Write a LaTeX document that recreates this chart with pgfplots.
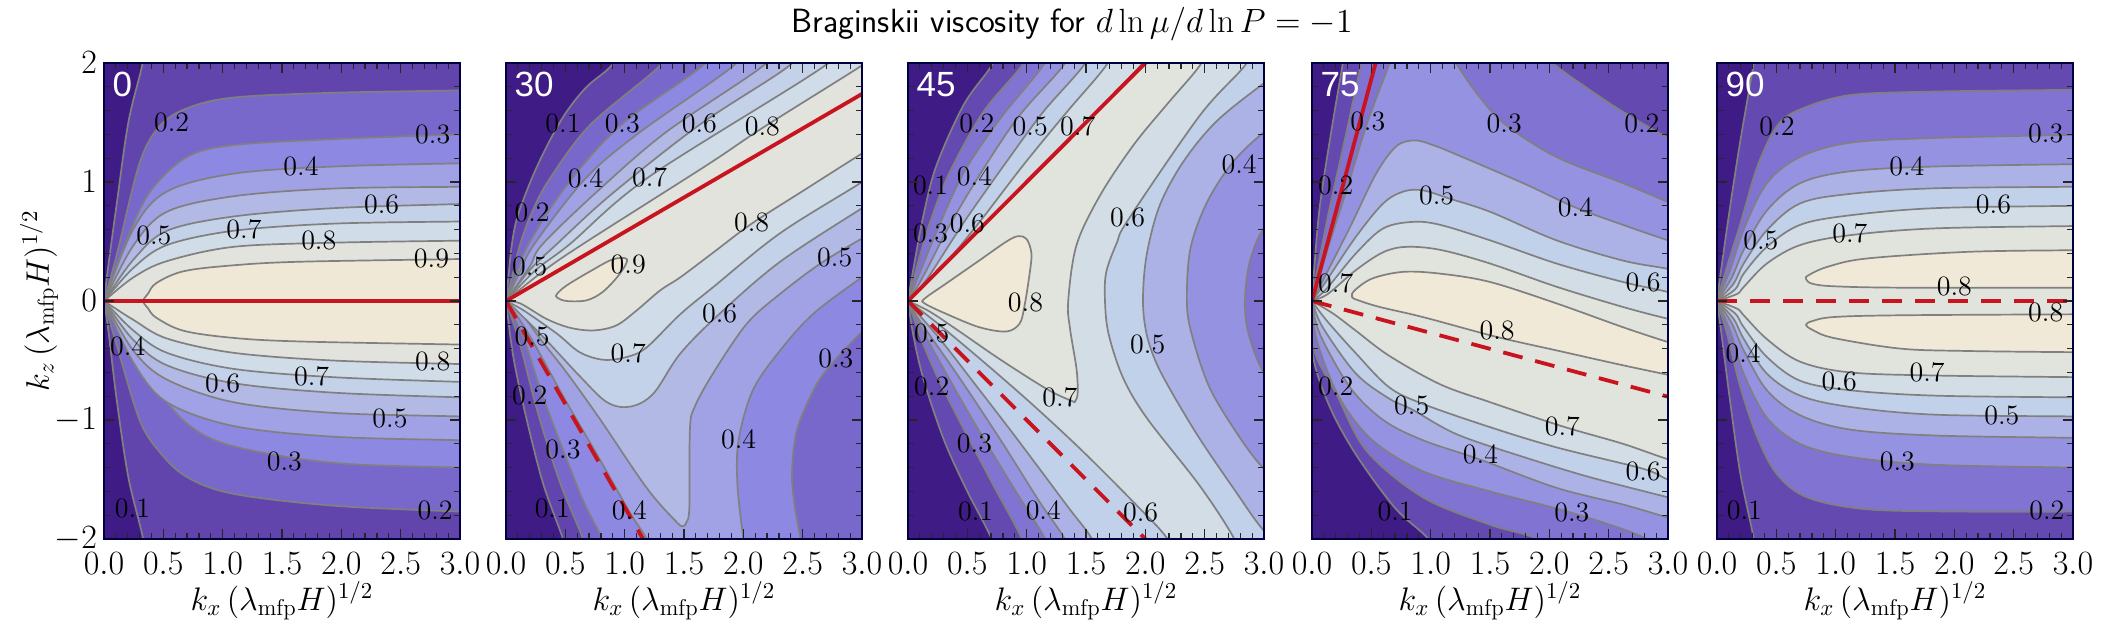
\RequirePackage{fix-cm}
\documentclass[border=0pt]{standalone}
\usepackage{fontspec}
\usepackage{pgfplots}
\pgfplotsset{compat=1.18}
\newfontfamily\hv{Liberation Sans}

\definecolor{c0}{HTML}{3F1B85}
\definecolor{c1}{HTML}{6145AD}
\definecolor{c2}{HTML}{7868CB}
\definecolor{c3}{HTML}{8D88E2}
\definecolor{c4}{HTML}{A0A2E5}
\definecolor{c5}{HTML}{B2B9E5}
\definecolor{c6}{HTML}{C3D2E9}
\definecolor{c7}{HTML}{D0DCE8}
\definecolor{c8}{HTML}{E2E3DC}
\definecolor{c9}{HTML}{F0E8D6}
\definecolor{d1}{HTML}{6349B0}
\definecolor{d2}{HTML}{8073D2}
\definecolor{d3}{HTML}{9692E2}
\definecolor{d4}{HTML}{ACB2E6}
\definecolor{d5}{HTML}{C1D1E9}
\definecolor{d6}{HTML}{D2DDE6}
\definecolor{d7}{HTML}{E1E3DD}
\definecolor{d8}{HTML}{F0E9D7}
\definecolor{cline}{HTML}{808080}
\definecolor{cred}{HTML}{C8141E}

\newcommand\lab[3]{\node[lab] at (axis cs:#1,#2) {#3};}
\tikzset{
  lab/.style={font=\fontsize{14}{16}\selectfont, text=black, inner sep=0pt},
  num/.style={font=\hv\fontsize{17.5}{20}\selectfont, text=white, anchor=west, inner sep=0pt},
}
\pgfplotsset{
  panel/.style={
    scale only axis, width=178pt, height=238pt,
    xmin=0, xmax=3, ymin=-2, ymax=2,
    xtick={0,0.5,...,3}, ytick={-2,-1,0,1,2},
    minor x tick num=4, minor y tick num=4,
    tick align=inside, major tick length=5pt, minor tick length=3pt,
    every tick/.style={black!85, line width=0.6pt},
    axis line style={black!75!blue, line width=0.6pt},
    axis on top,
    xticklabel style={/pgf/number format/fixed, /pgf/number format/fixed zerofill, /pgf/number format/precision=1, yshift=-3.5pt},
    tick label style={font=\fontsize{17}{20}\selectfont},
    label style={font=\fontsize{16.3}{19}\selectfont},
    xlabel={$k_x\,(\lambda_{\mathrm{mfp}}H)^{1/2}$},
    xlabel style={yshift=3.5pt},
  },
  lev/.style={draw=cline, line width=0.85pt, smooth, tension=0.55, fill=#1},
  redsolid/.style={draw=cred, line width=1.9pt},
  reddash/.style={draw=cred, line width=1.9pt, dash pattern=on 10pt off 6.5pt},
}

\begin{document}
\begin{tikzpicture}
\useasboundingbox (-52pt,-49.5pt) rectangle (999.5pt,269.5pt);

% ---- 0 degrees
\begin{axis}[panel, at={(0pt,0pt)}, axis background/.style={fill=c0},
  ylabel={$k_z\,(\lambda_{\mathrm{mfp}}H)^{1/2}$}, ylabel style={yshift=-8.5pt}]
\addplot[lev=c1] coordinates {(.34,2.2)(.326,2)(.205,1.5)(.107,.815)(.037,.3)(0,0)(0,0)(.037,-.25)(.107,-.83)(.205,-1.48)(.33,-2)(.34,-2.2)(.35,-2.5)(3.3,-2.5)(3.3,2.5)(.36,2.5)};
\addplot[lev=c2] coordinates {(3.3,1.78)(3,1.77)(1.93,1.75)(1.09,1.71)(.7,1.62)(.47,1.47)(.3,1.16)(.11,.4)(0,0)(0,0)(.11,-.38)(.3,-1)(.47,-1.27)(.7,-1.48)(1.09,-1.62)(1.93,-1.72)(3,-1.77)(3.3,-1.78)};
\addplot[lev=c3] coordinates {(3.3,1.41)(3,1.4)(1.93,1.36)(1.09,1.31)(.7,1.21)(.39,.92)(.19,.51)(0,0)(0,0)(.19,-.32)(.39,-.66)(.7,-1.03)(1.09,-1.22)(1.93,-1.36)(3,-1.4)(3.3,-1.41)};
\addplot[lev=c4] coordinates {(3.3,1.16)(3,1.157)(1.93,1.13)(1.09,1.07)(.53,.92)(.25,.61)(0,0)(0,0)(.25,-.52)(.53,-.85)(1.09,-1.05)(1.93,-1.14)(3,-1.17)(3.3,-1.18)};
\addplot[lev=c5] coordinates {(3.3,.965)(3,.96)(1.93,.945)(1.09,.88)(.53,.75)(.25,.47)(0,0)(0,0)(.25,-.42)(.53,-.66)(1.09,-.85)(1.93,-.94)(3,-.97)(3.3,-.98)};
\addplot[lev=c6] coordinates {(3.3,.82)(3,.815)(1.93,.78)(1.09,.71)(.53,.59)(.25,.35)(0,0)(0,0)(.25,-.33)(.53,-.54)(1.09,-.69)(1.93,-.77)(3,-.81)(3.3,-.82)};
\addplot[lev=c7] coordinates {(3.3,.67)(3,.668)(1.93,.65)(1.09,.59)(.53,.47)(.25,.28)(0,0)(0,0)(.25,-.25)(.53,-.435)(1.09,-.57)(1.93,-.64)(3,-.68)(3.3,-.69)};
\addplot[lev=c8] coordinates {(3.3,.51)(3,.507)(1.93,.49)(1.09,.455)(.53,.335)(.25,.2)(0,0)(0,0)(.25,-.16)(.53,-.315)(1.09,-.435)(1.93,-.5)(3,-.53)(3.3,-.54)};
\addplot[lev=c9] coordinates {(3.2,.36)(3,.353)(1.65,.33)(1.09,.3)(.67,.25)(.44,.15)(.37,.06)(.33,0)(.37,-.06)(.44,-.14)(.67,-.25)(1.09,-.31)(1.65,-.34)(3,-.366)(3.2,-.37)};
\addplot[redsolid] coordinates {(0,0)(3,0)};
\lab{.57}{1.5}{0.2}\lab{2.77}{1.4}{0.3}\lab{1.66}{1.13}{0.4}\lab{2.34}{.815}{0.6}
\lab{.42}{.55}{0.5}\lab{1.18}{.6}{0.7}\lab{1.81}{.51}{0.8}\lab{2.76}{.36}{0.9}
\lab{.2}{-.38}{0.4}\lab{2.77}{-.51}{0.8}\lab{1.75}{-.63}{0.7}\lab{1}{-.69}{0.6}
\lab{2.41}{-.99}{0.5}\lab{1.52}{-1.35}{0.3}\lab{.24}{-1.74}{0.1}\lab{2.79}{-1.76}{0.2}
\node[num] at (axis cs:.07,1.82) {0};
\end{axis}

% ---- 30 degrees
\begin{axis}[panel, at={(201pt,0pt)}, axis background/.style={fill=c0}, yticklabels={}]
\addplot[lev=c1] coordinates {(.95,2.15)(.89,1.98)(.68,1.8)(.51,1.59)(.37,1.35)(.23,1.06)(.1,.72)(.05,.48)(.02,.2)(0,0)(0,0)(.06,-.46)(.16,-.935)(.31,-1.525)(.48,-2)(.52,-2.2)(.55,-2.5)(3.3,-2.5)(3.3,2.5)(1,2.5)};
\addplot[lev=c2] coordinates {(1.36,2.15)(1.3,1.98)(.71,1.48)(.37,1.03)(.22,.75)(.12,.48)(.05,.2)(0,0)(0,0)(.12,-.37)(.26,-.91)(.455,-1.525)(.65,-2)(.7,-2.2)(.75,-2.5)(3.3,-2.5)(3.3,2.5)(1.4,2.5)};
\addplot[lev=c3] coordinates {(1.72,2.15)(1.66,1.98)(.97,1.48)(.51,.97)(.19,.48)(.09,.23)(0,0)(0,0)(.15,-.32)(.31,-.8)(.5,-1.3)(.66,-1.7)(.81,-2)(.84,-2.2)(.9,-2.5)(2.5,-2.5)(2.49,-2.2)(2.48,-2)(2.435,-1.736)(2.41,-1.455)(2.45,-1.09)(2.59,-.753)(2.72,-.556)(3,-.26)(3.2,-.1)(3.4,0)(3.4,2.5)(1.8,2.5)};
\addplot[lev=c4] coordinates {(1.98,2.15)(1.92,1.98)(1.13,1.42)(.67,1.03)(.24,.48)(.12,.25)(0,0)(0,0)(.09,-.12)(.23,-.345)(.51,-.85)(.79,-1.33)(1.045,-1.78)(1.185,-2)(1.25,-2.2)(1.3,-2.5)(2.05,-2.5)(2.03,-2.2)(2,-2)(1.95,-1.54)(1.96,-1.17)(2.08,-.75)(2.31,-.416)(2.59,-.107)(3,.2)(3.2,.33)(3.4,.45)(3.4,2.5)(2.05,2.5)};
\addplot[lev=c5] coordinates {(2.23,2.15)(2.17,1.98)(1.35,1.42)(.79,.94)(.31,.48)(.2,.29)(0,0)(0,0)(.12,-.09)(.29,-.32)(.51,-.6)(.79,-.99)(1.185,-1.57)(1.44,-1.86)(1.495,-1.89)(1.52,-1.86)(1.545,-1.736)(1.55,-1.076)(1.59,-.89)(1.75,-.6)(2.03,-.19)(2.31,.06)(2.65,.315)(3,.525)(3.2,.62)(3.4,.75)(3.4,2.5)(2.3,2.5)};
\addplot[lev=c6] coordinates {(2.45,2.15)(2.39,1.98)(1.63,1.48)(.88,.89)(.43,.48)(.2,.26)(0,0)(0,0)(.09,-.08)(.34,-.33)(.62,-.63)(.85,-.85)(1.045,-.888)(1.24,-.78)(1.47,-.44)(1.8,-.107)(2.31,.33)(3,.78)(3.2,.9)(3.4,1)(3.4,2.5)(2.5,2.5)};
\addplot[lev=c7] coordinates {(2.75,2.15)(2.69,1.98)(1.2,1.04)(.54,.48)(.25,.26)(0,0)(0,0)(.15,-.08)(.43,-.275)(.62,-.43)(.82,-.494)(1.02,-.47)(1.185,-.39)(1.47,-.11)(1.75,.12)(2.31,.57)(3,1)(3.2,1.15)(3.4,1.3)(3.4,2.5)(2.8,2.5)};
\addplot[lev=c8] coordinates {(3.15,2.1)(3,1.98)(2.17,1.46)(1.69,1.14)(.65,.48)(.3,.24)(0,0)(0,0)(.12,-.02)(.34,-.15)(.54,-.225)(.74,-.247)(.93,-.205)(1.1,-.08)(1.3,.09)(1.47,.2)(1.75,.41)(2.07,.65)(2.51,.93)(3,1.24)(3.3,1.42)(3.5,1.6)};
\addplot[lev=c9, smooth cycle] coordinates {(.43,.06)(.51,.13)(.71,.25)(.9,.35)(1.02,.35)(.96,.23)(.82,.08)(.68,.006)(.51,0)(.43,.03)};
\addplot[redsolid] coordinates {(0,0)(3,1.74)};
\addplot[reddash] coordinates {(0,0)(1.155,-2)};
\lab{.48}{1.49}{0.1}\lab{.98}{1.49}{0.3}\lab{1.63}{1.49}{0.6}\lab{2.16}{1.47}{0.8}
\lab{.67}{1.03}{0.4}\lab{1.21}{1.04}{0.7}\lab{.22}{.74}{0.2}\lab{2.07}{.66}{0.8}
\lab{2.77}{.365}{0.5}\lab{.2}{.29}{0.5}\lab{1.03}{.31}{0.9}\lab{1.8}{-.107}{0.6}
\lab{.22}{-.3}{0.5}\lab{1.03}{-.44}{0.7}\lab{2.78}{-.48}{0.3}\lab{.2}{-.79}{0.2}
\lab{1.96}{-1.16}{0.4}\lab{.48}{-1.25}{0.3}\lab{.39}{-1.74}{0.1}\lab{1.04}{-1.76}{0.4}
\node[num] at (axis cs:.07,1.82) {30};
\end{axis}

% ---- 45 degrees
\begin{axis}[panel, at={(402pt,0pt)}, axis background/.style={fill=c0}, yticklabels={},
  title={\sffamily Braginskii viscosity for $d\ln\mu/d\ln P=-1$},
  title style={font=\fontsize{16.8}{20}\selectfont, yshift=1.5pt, xshift=-7pt}]
\addplot[lev=d1] coordinates {(.75,2.15)(.705,1.98)(.47,1.65)(.24,1.14)(.13,.72)(.045,.27)(0,0)(0,0)(.045,-.29)(.13,-.655)(.3,-1.16)(.49,-1.58)(.705,-2)(.75,-2.2)(.8,-2.5)(3.3,-2.5)(3.3,2.5)(.8,2.5)};
\addplot[lev=d2] coordinates {(1,2.15)(.96,1.98)(.635,1.59)(.35,1.08)(.185,.66)(.07,.27)(0,0)(0,0)(.1,-.29)(.23,-.6)(.44,-1.02)(.72,-1.55)(.96,-2)(1,-2.2)(1.05,-2.5)(3.3,-2.5)(3.3,2.5)(1.05,2.5)};
\addplot[lev=d3] coordinates {(1.19,2.15)(1.14,1.98)(.775,1.53)(.47,1.08)(.24,.58)(.1,.24)(0,0)(0,0)(.13,-.26)(.3,-.57)(.58,-1.06)(.915,-1.61)(1.155,-2)(1.2,-2.2)(1.25,-2.5)(3.4,-2.5)(3.4,-.75)(3.2,-.7)(3,-.6)(2.87,-.275)(2.84,0)(2.88,.33)(3,.61)(3.2,.7)(3.4,.8)(3.4,2.5)(1.25,2.5)};
\addplot[lev=d4] coordinates {(1.36,2.15)(1.31,1.98)(.94,1.56)(.635,1.11)(.35,.635)(.13,.21)(0,0)(0,0)(.06,-.107)(.185,-.29)(.44,-.655)(.775,-1.16)(1.11,-1.69)(1.32,-2)(1.37,-2.2)(1.42,-2.5)(3.4,-2.5)(3.4,-1.6)(3.2,-1.55)(3,-1.41)(2.795,-1.146)(2.54,-.725)(2.39,-.275)(2.35,0)(2.38,.44)(2.52,.83)(2.74,1.17)(3,1.42)(3.2,1.55)(3.4,1.65)(3.4,2.5)(1.42,2.5)};
\addplot[lev=d5] coordinates {(1.53,2.15)(1.48,1.98)(1.14,1.59)(.83,1.17)(.47,.66)(.16,.185)(0,0)(0,0)(.07,-.09)(.27,-.32)(.55,-.68)(.92,-1.16)(1.34,-1.72)(1.55,-2)(1.6,-2.2)(1.65,-2.5)(3.4,-2.5)(3.4,-2.15)(3.2,-2.05)(3,-1.93)(2.74,-1.57)(2.46,-1.16)(2.23,-.78)(2.09,-.515)(2.01,-.275)(1.98,0)(2.01,.38)(2.12,.8)(2.32,1.17)(2.6,1.51)(3,1.83)(3.2,1.95)(3.4,2.05)(3.4,2.5)(1.65,2.5)};
\addplot[lev=d6] coordinates {(1.72,2.15)(1.67,1.98)(1.34,1.59)(.97,1.14)(.58,.635)(.185,.16)(0,0)(0,0)(.07,-.05)(.27,-.205)(.635,-.51)(1.06,-.88)(1.48,-1.27)(1.9,-1.69)(2.18,-1.99)(2.25,-2.2)(2.3,-2.5)(2.85,-2.5)(2.8,-2.2)(2.75,-2)(2.46,-1.555)(2.01,-.98)(1.81,-.64)(1.69,-.275)(1.66,0)(1.67,.24)(1.76,.49)(1.86,.69)(2.46,1.56)(2.84,1.98)(2.9,2.15)};
\addplot[lev=d7] coordinates {(2.02,2.15)(1.98,2)(1,1)(.3,.3)(0,0)(0,0)(.185,-.09)(.44,-.26)(.775,-.49)(1.17,-.74)(1.38,-.84)(1.41,-.84)(1.43,-.77)(1.42,-.57)(1.365,-.23)(1.35,0)(1.42,.47)(1.62,.89)(1.9,1.31)(2.18,1.65)(2.46,1.98)(2.52,2.15)};
\addplot[lev=d8, smooth cycle] coordinates {(.14,.02)(.32,.146)(.6,.34)(.83,.5)(.93,.545)(1,.52)(1.04,.4)(1.025,.23)(.98,-.05)(.94,-.19)(.83,-.256)(.6,-.22)(.32,-.107)(.14,-.02)};
\addplot[redsolid] coordinates {(0,0)(2,2)};
\addplot[reddash] coordinates {(0,0)(2,-2)};
\lab{.58}{1.49}{0.2}\lab{1.03}{1.47}{0.5}\lab{1.43}{1.47}{0.7}\lab{2.79}{1.15}{0.4}
\lab{.19}{.97}{0.1}\lab{.56}{1.05}{0.4}\lab{1.85}{.7}{0.6}\lab{.5}{.65}{0.6}
\lab{.19}{.57}{0.3}\lab{.99}{-.01}{0.8}\lab{.2}{-.27}{0.5}\lab{2.02}{-.365}{0.5}
\lab{.2}{-.72}{0.2}\lab{1.28}{-.81}{0.7}\lab{.56}{-1.2}{0.3}\lab{.57}{-1.77}{0.1}
\lab{1.14}{-1.76}{0.4}\lab{1.96}{-1.78}{0.6}
\node[num] at (axis cs:.07,1.82) {45};
\end{axis}

% ---- 75 degrees
\begin{axis}[panel, at={(604pt,0pt)}, axis background/.style={fill=c0}, yticklabels={}]
\addplot[lev=d1] coordinates {(.29,2.15)(.26,2)(.15,1.35)(.065,.79)(.02,.29)(0,0)(0,0)(.01,-.47)(.15,-.89)(.37,-1.29)(.7,-1.74)(.98,-2)(1.05,-2.2)(1.1,-2.5)(3.3,-2.5)(3.3,2.5)(.3,2.5)};
\addplot[lev=d2] coordinates {(.45,2.15)(.415,2)(.275,1.35)(.15,.79)(.05,.29)(0,0)(0,0)(.02,-.42)(.205,-.78)(.46,-1.26)(.935,-1.65)(1.5,-1.88)(1.89,-2)(2,-2.2)(2.1,-2.5)(3.4,-2.5)(3.4,1.2)(3.2,1.27)(3,1.37)(2.62,1.59)(2.34,1.775)(2.03,2)(1.95,2.15)(1.9,2.5)(.5,2.5)};
\addplot[lev=d3] coordinates {(.7,2.15)(.655,2)(.47,1.51)(.29,.93)(.12,.4)(0,0)(0,0)(.04,-.33)(.23,-.81)(.51,-1.17)(.935,-1.43)(1.5,-1.6)(2.19,-1.78)(2.82,-2)(2.95,-2.2)(3.05,-2.5)(3.4,-2.5)(3.4,.65)(3.2,.73)(3,.83)(2.62,.99)(2.06,1.21)(1.62,1.49)(1.385,1.75)(1.215,2)(1.15,2.15)(1.1,2.5)(.75,2.5)};
\addplot[lev=d4] coordinates {(3.3,.42)(3,.51)(2.62,.64)(2.21,.79)(1.78,.99)(1.22,1.23)(1.02,1.31)(.865,1.35)(.71,1.3)(.54,1.07)(.32,.62)(.09,.17)(0,0)(0,0)(.065,-.275)(.32,-.725)(.6,-1)(.935,-1.17)(1.41,-1.33)(2.06,-1.57)(2.62,-1.71)(3,-1.82)(3.3,-1.9)};
\addplot[lev=d5] coordinates {(3.3,.2)(3,.27)(2.62,.34)(2.06,.51)(1.5,.75)(1.16,.86)(.935,.93)(.77,.92)(.6,.82)(.37,.54)(.105,.146)(0,0)(0,0)(.09,-.22)(.37,-.61)(.65,-.82)(.84,-.91)(1.22,-1.12)(1.78,-1.31)(2.34,-1.48)(3,-1.65)(3.3,-1.73)};
\addplot[lev=d6] coordinates {(3.3,0)(3,.076)(2.62,.16)(2.06,.315)(1.5,.51)(1.08,.64)(.85,.665)(.6,.61)(.37,.4)(.12,.1)(0,0)(0,0)(.12,-.16)(.37,-.44)(.65,-.725)(.935,-.865)(1.5,-1.06)(2.06,-1.23)(2.79,-1.41)(3,-1.5)(3.3,-1.58)};
\addplot[lev=d7] coordinates {(3.3,-.22)(3,-.15)(2.62,-.05)(2.06,.12)(1.5,.315)(1.08,.43)(.795,.455)(.6,.41)(.37,.26)(.135,.06)(0,0)(0,0)(.18,-.107)(.37,-.25)(.65,-.46)(1.08,-.7)(1.5,-.85)(2.1,-1.05)(2.62,-1.2)(3,-1.33)(3.3,-1.41)};
\addplot[lev=d8] coordinates {(3.3,-.43)(3,-.345)(2.62,-.22)(2.06,-.02)(1.5,.16)(1.08,.23)(.77,.245)(.51,.19)(.36,.09)(.337,.034)(.39,.006)(.57,-.05)(.935,-.135)(1.55,-.3)(2.06,-.415)(2.62,-.54)(3,-.62)(3.3,-.68)};
\addplot[redsolid] coordinates {(0,0)(.536,2)};
\addplot[reddash] coordinates {(0,0)(3,-.804)};
\lab{.47}{1.51}{0.3}\lab{1.62}{1.49}{0.3}\lab{2.78}{1.49}{0.2}\lab{.2}{.97}{0.2}
\lab{1.05}{.89}{0.5}\lab{2.22}{.79}{0.4}\lab{.2}{.15}{0.7}\lab{2.79}{.155}{0.6}
\lab{1.56}{-.25}{0.8}\lab{.2}{-.72}{0.2}\lab{.84}{-.88}{0.5}\lab{2.11}{-1.05}{0.7}
\lab{1.42}{-1.29}{0.4}\lab{2.79}{-1.43}{0.6}\lab{.7}{-1.77}{0.1}\lab{2.19}{-1.78}{0.3}
\node[num] at (axis cs:.07,1.82) {75};
\end{axis}

% ---- 90 degrees
\begin{axis}[panel, at={(806.5pt,0pt)}, axis background/.style={fill=c0}, yticklabels={}]
\addplot[lev=d1] coordinates {(.33,2.15)(.31,2)(.197,1.35)(.11,.79)(.03,.23)(0,0)(0,0)(.03,-.22)(.11,-.84)(.197,-1.455)(.31,-2)(.33,-2.2)(.35,-2.5)(3.3,-2.5)(3.3,2.5)(.35,2.5)};
\addplot[lev=d2] coordinates {(3.3,1.78)(3,1.775)(1.83,1.76)(1.12,1.73)(.7,1.61)(.505,1.47)(.34,1.13)(.197,.65)(.084,.29)(0,0)(0,0)(.084,-.275)(.197,-.725)(.34,-1.146)(.505,-1.455)(.76,-1.65)(1.26,-1.75)(2.11,-1.77)(3,-1.77)(3.3,-1.77)};
\addplot[lev=d3] coordinates {(3.3,1.4)(3,1.396)(1.83,1.37)(1.12,1.33)(.7,1.21)(.42,.99)(.225,.6)(.11,.26)(0,0)(0,0)(.11,-.25)(.225,-.61)(.42,-.98)(.7,-1.2)(1.12,-1.31)(1.83,-1.376)(3,-1.4)(3.3,-1.41)};
\addplot[lev=d4] coordinates {(3.3,1.155)(3,1.15)(1.83,1.13)(1.12,1.09)(.7,.99)(.42,.76)(.225,.43)(.126,.2)(0,0)(0,0)(.126,-.19)(.225,-.415)(.42,-.75)(.7,-.96)(1.12,-1.08)(1.83,-1.13)(3,-1.15)(3.3,-1.155)};
\addplot[lev=d5] coordinates {(3.3,.965)(3,.96)(1.83,.947)(1.12,.9)(.7,.82)(.42,.595)(.225,.315)(.14,.146)(0,0)(0,0)(.14,-.15)(.225,-.317)(.42,-.61)(.7,-.795)(1.12,-.89)(1.83,-.955)(3,-.97)(3.3,-.975)};
\addplot[lev=d6] coordinates {(3.3,.805)(3,.8)(1.83,.78)(1.12,.72)(.7,.64)(.42,.455)(.225,.23)(.155,.1)(0,0)(0,0)(.155,-.107)(.225,-.22)(.42,-.47)(.7,-.67)(1.12,-.75)(1.83,-.795)(3,-.81)(3.3,-.815)};
\addplot[lev=d7] coordinates {(3.3,.635)(3,.63)(1.83,.61)(1.12,.553)(.7,.47)(.42,.315)(.225,.118)(.17,.06)(0,0)(0,0)(.17,-.065)(.225,-.12)(.42,-.32)(.7,-.51)(1.12,-.6)(1.83,-.626)(3,-.64)(3.3,-.645)};
\addplot[lev=d8] coordinates {(3.3,.43)(3,.427)(2.11,.413)(1.26,.357)(.93,.287)(.77,.216)(.75,.185)(.8,.146)(.98,.124)(1.545,.112)(3,.112)(3.3,.112)};
\addplot[lev=d8] coordinates {(3.3,-.112)(3,-.112)(1.545,-.12)(.98,-.135)(.8,-.17)(.75,-.2)(.8,-.24)(.98,-.31)(1.545,-.4)(2.11,-.42)(3,-.43)(3.3,-.43)};
\addplot[reddash] coordinates {(0,0)(3,0)};
\lab{.505}{1.47}{0.2}\lab{2.77}{1.41}{0.3}\lab{1.6}{1.13}{0.4}\lab{2.33}{.81}{0.6}
\lab{.37}{.51}{0.5}\lab{1.12}{.57}{0.7}\lab{2}{.12}{0.8}\lab{2.77}{-.1}{0.8}
\lab{.22}{-.44}{0.4}\lab{1.77}{-.6}{0.7}\lab{1.03}{-.68}{0.6}\lab{2.4}{-.96}{0.5}
\lab{1.52}{-1.35}{0.3}\lab{.23}{-1.76}{0.1}\lab{2.78}{-1.76}{0.2}
\node[num] at (axis cs:.07,1.82) {90};
\end{axis}
\end{tikzpicture}
\end{document}
